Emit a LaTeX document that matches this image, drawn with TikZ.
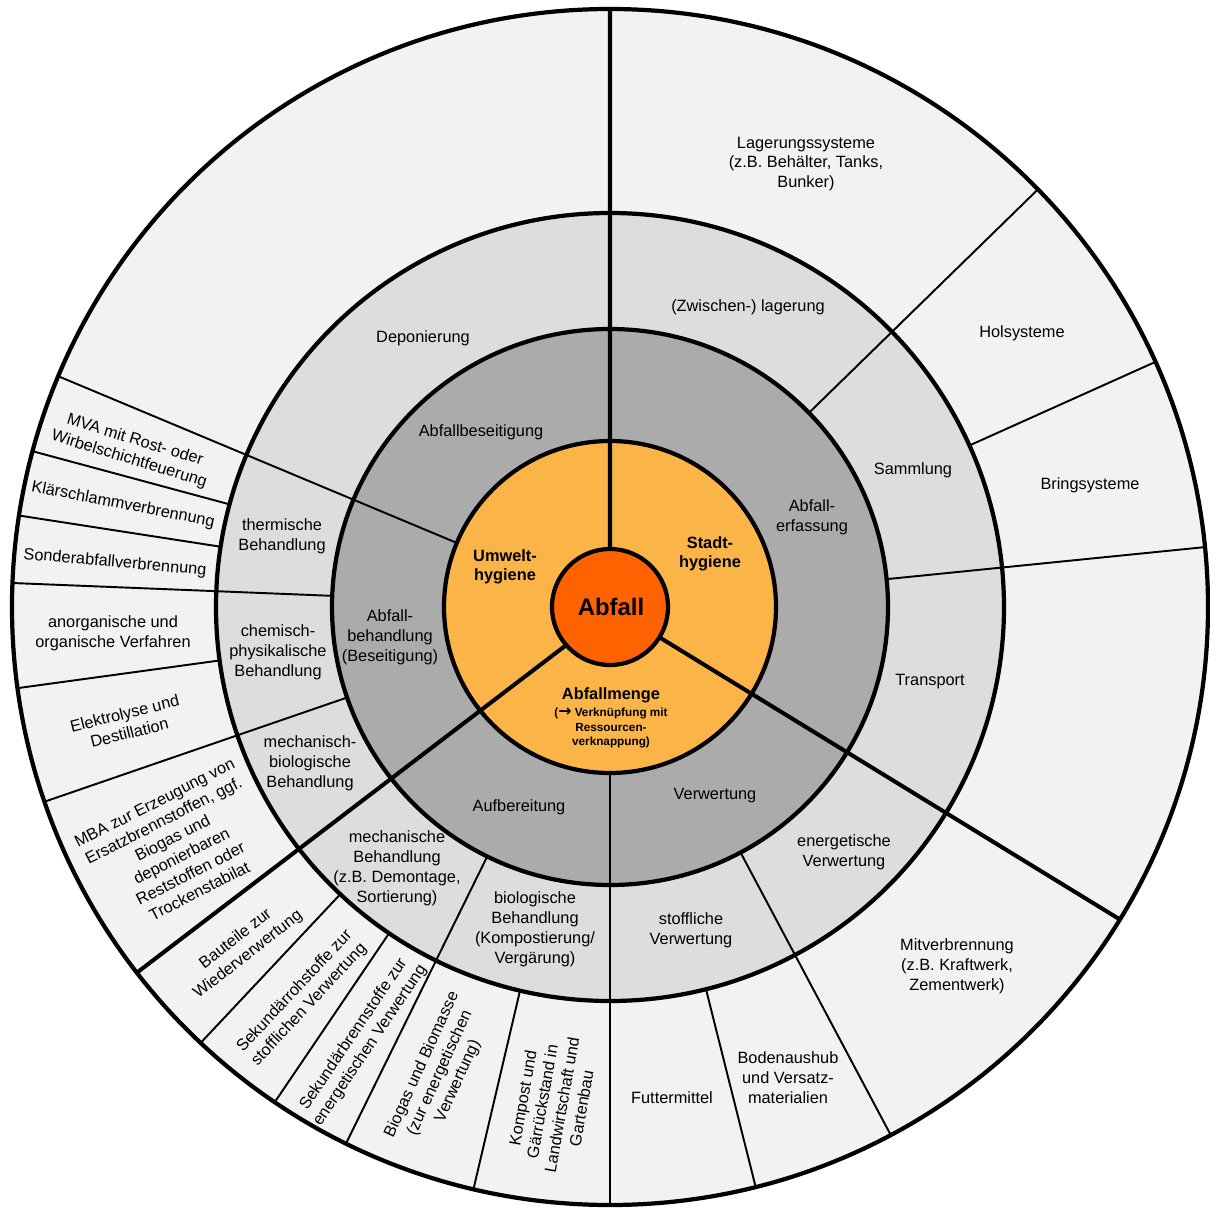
\documentclass[tikz,border=0pt]{standalone}
\usepackage{fontspec}
\setmainfont{Liberation Sans}
\newfontfamily\arrowfont{DejaVu Sans}
\usepackage{xcolor}
\definecolor{abfallred}{RGB}{255,98,0}
\definecolor{hygieneorange}{RGB}{251,180,72}
\definecolor{taskgray}{RGB}{171,171,171}
\definecolor{meansgray}{RGB}{221,221,221}
\definecolor{rimgray}{RGB}{242,242,242}
\usepackage{tikz}
\newcommand{\radcore}{58}
\newcommand{\radhub}{166}
\newcommand{\radtask}{278}
\newcommand{\radmeans}{394}
\newcommand{\radrim}{598}
\tikzset{
    ring/.style={draw=black, line width=2.4pt},
    cut-major/.style={draw=black, line width=2.3pt},
    cut-medium/.style={draw=black, line width=1.5pt},
    cut-minor/.style={draw=black, line width=1.1pt},
    caption/.style={align=center, inner sep=0pt, font=\fontsize{9.3}{11.3}\selectfont},
    hub-caption/.style={caption, font=\bfseries\fontsize{9.3}{11}\selectfont},
    note-caption/.style={caption, font=\bfseries\fontsize{6.7}{8.5}\selectfont},
    core-caption/.style={caption, font=\bfseries\fontsize{13.6}{16}\selectfont},
    rim-caption/.style={caption, rotate=#1}
}
\begin{document}
\begin{tikzpicture}[x=0.02cm, y=0.02cm]
      \useasboundingbox (-610,-600) rectangle (600,607);

      \fill[rimgray] (0,0) circle (\radrim);
      \fill[meansgray] (0,0) circle (\radmeans);
      \fill[taskgray] (0,0) circle (\radtask);
      \fill[hygieneorange] (0,0) circle (\radhub);

      \draw[cut-major] (90:\radcore) -- (90:\radrim) (221:\radcore) -- (217.7:\radrim) (-31.5:\radcore) -- (-31.5:\radrim);
      \draw[cut-medium] (270:\radhub) -- (270:\radrim);
      \draw[cut-minor]
          (157.3:\radhub) -- (157.3:\radrim)
          (177.7:\radtask) -- (177.7:\radrim)
          (199:\radtask) -- (199:\radrim)
          (243.8:\radtask) -- (243.8:\radrim)
          (-62:\radtask) -- (-62:\radrim)
          (5.75:\radtask) -- (5.75:\radrim)
          (44.3:\radtask) -- (44.3:\radrim);
      \draw[cut-minor]
          (164.9:\radmeans) -- (164.9:\radrim)
          (171.2:\radmeans) -- (171.2:\radrim)
          (187.8:\radmeans) -- (187.8:\radrim)
          (226.8:\radmeans) -- (226.8:\radrim)
          (235.9:\radmeans) -- (235.9:\radrim)
          (256.8:\radmeans) -- (256.8:\radrim)
          (-75.9:\radmeans) -- (-75.9:\radrim)
          (24.2:\radmeans) -- (24.2:\radrim);

      \draw[ring] (0,0) circle (\radhub) (0,0) circle (\radtask) (0,0) circle (\radmeans) (0,0) circle (\radrim);
      \draw[ring, fill=abfallred] (0,0) circle (\radcore);

      \path
          (1,0) node[core-caption] (abfall) {Abfall}
          (-105,40) node[hub-caption] (umwelthygiene) {Umwelt-\\hygiene}
          (100,53) node[hub-caption] (stadthygiene) {Stadt-\\hygiene}
          (1,-88) node[hub-caption] (abfallmenge) {Abfallmenge}
          (1,-121) node[note-caption] (verknuepfung) {({\arrowfont\fontsize{9}{8.5}\selectfont →} Verknüpfung mit\\Ressourcen-\\verknappung)};

      \path
          (-129,175) node[caption] (beseitigung) {Abfallbeseitigung}
          (202,90) node[caption] (erfassung) {Abfall-\\erfassung}
          (105,-189) node[caption] (verwertung) {Verwertung}
          (-91,-200) node[caption] (aufbereitung) {Aufbereitung}
          (-220,-30) node[caption] (behandlung) {Abfall-\\behandlung\\(Beseitigung)};

      \path
          (138,300) node[caption] (lagerung) {(Zwischen-) lagerung}
          (303,137) node[caption] (sammlung) {Sammlung}
          (320,-75) node[caption] (transport) {Transport}
          (234,-245) node[caption] (energetisch) {energetische\\Verwertung}
          (81,-323) node[caption] (stofflich) {stoffliche\\Verwertung}
          (-75,-322) node[caption] (biologisch) {biologische\\Behandlung\\(Kompostierung/\\Vergärung)}
          (-213,-261) node[caption] (mechanisch) {mechanische\\Behandlung\\(z.B. Demontage,\\Sortierung)}
          (-300,-156) node[caption] (mechbio) {mechanisch-\\biologische\\Behandlung}
          (-332,-45) node[caption] (chemphys) {chemisch-\\physikalische\\Behandlung}
          (-328,71) node[caption] (thermisch) {thermische\\Behandlung}
          (-187,269) node[caption] (deponierung) {Deponierung};

      \path
          (196,443) node[caption] (lagersysteme) {Lagerungssysteme\\(z.B. Behälter, Tanks,\\Bunker)}
          (412,274) node[caption] (holsysteme) {Holsysteme}
          (480,122) node[caption] (bringsysteme) {Bringsysteme}
          (347,-359) node[caption] (mitverbrennung) {Mitverbrennung\\(z.B. Kraftwerk,\\Zementwerk)}
          (178,-471) node[caption] (bodenaushub) {Bodenaushub\\und Versatz-\\materialien}
          (62,-491) node[caption] (futtermittel) {Futtermittel}
          (-58,-496) node[rim-caption=80] (kompost) {Kompost und\\Gärrückstand in\\Landwirtschaft und\\Gartenbau}
          (-170,-466) node[rim-caption=65.5] (biogas) {Biogas und Biomasse\\(zur energetischen\\Verwertung)}
          (-248,-433) node[rim-caption=56] (sekbrenn) {Sekundärbrennstoffe zur\\energetischen Verwertung}
          (-308,-391) node[rim-caption=47] (sekroh) {Sekundärrohstoffe zur\\stofflichen Verwertung}
          (-368,-340) node[rim-caption=38] (bauteile) {Bauteile zur\\Wiederverwertung}
          (-433,-240) node[rim-caption=27] (mba) {MBA zur Erzeugung von\\Ersatzbrennstoffen, ggf.\\Biogas und\\deponierbaren\\Reststoffen oder\\Trockenstabilat}
          (-483,-116) node[rim-caption=14] (elektrolyse) {Elektrolyse und\\Destillation}
          (-497,-26) node[caption] (verfahren) {anorganische und\\organische Verfahren}
          (-495,44) node[rim-caption=-5] (sonderabfall) {Sonderabfallverbrennung}
          (-487,102) node[rim-caption=-11] (klaerschlamm) {Klärschlammverbrennung}
          (-478,157) node[rim-caption=-17] (mva) {MVA mit Rost- oder\\Wirbelschichtfeuerung};
\end{tikzpicture}
\end{document}
